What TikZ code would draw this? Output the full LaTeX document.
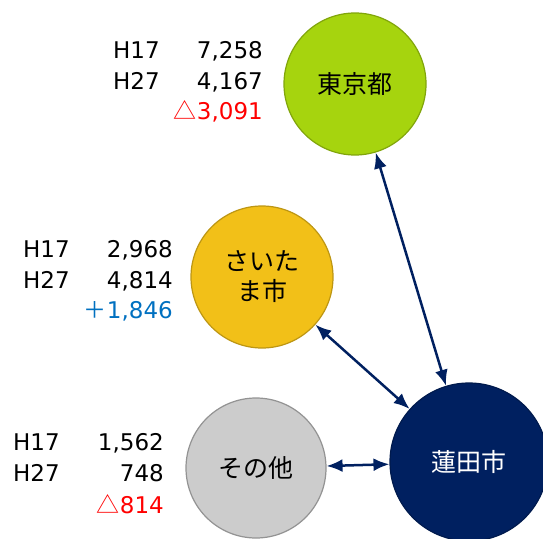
\documentclass[tikz,border=0pt]{standalone}
\usepackage{fontspec}
\setmainfont{DejaVu Sans}
\newfontfamily\jp{Noto Sans CJK JP}
\usetikzlibrary{arrows.meta}
\definecolor{navy}{RGB}{0,32,96}
\definecolor{tokyoc}{RGB}{166,212,14}
\definecolor{saitamac}{RGB}{242,192,24}
\definecolor{otherc}{RGB}{204,204,204}
\definecolor{redt}{RGB}{255,0,0}
\definecolor{bluet}{RGB}{0,112,192}
\begin{document}
\begin{tikzpicture}[x=1pt,y=-1pt,
  city/.style={circle, inner sep=0pt, font=\jp\fontsize{25}{30}\selectfont, align=center, line width=1.2pt},
  num/.style={anchor=base east, inner sep=0pt, font=\fontsize{23}{27}\selectfont},
  yr/.style={anchor=base west, inner sep=0pt, font=\fontsize{23}{27}\selectfont},
  link/.style={{Latex[length=16pt,width=13pt]}-{Latex[length=16pt,width=13pt]}, line width=2.5pt, draw=navy}]
\useasboundingbox (0,0) rectangle (543,538);

% circles
\node[city, minimum size=142pt, fill=tokyoc, draw=tokyoc!78!black] (tokyo) at (355,84) {東京都};
\node[city, minimum size=142pt, fill=saitamac, draw=saitamac!78!black] (saitama) at (262,277) {さいた\\ま市};
\node[city, minimum size=140pt, fill=otherc, draw=otherc!72!black] (other) at (256,468) {その他};
\node[city, minimum size=158pt, fill=navy, draw=navy!80!black, text=white] (hasuda) at (469,462) {蓮田市};

% connectors
\draw[link] (tokyo) -- (hasuda);
\draw[link] (saitama) -- (hasuda);
\draw[link] (other) -- (hasuda);

% Tokyo figures
\node[yr] (t17) at (113,58.5) {H17};
\node[num] (t17n) at (263,58.5) {7,258};
\node[yr] (t27) at (113,89) {H27};
\node[num] (t27n) at (263,89) {4,167};
\node[num, text=redt] (tdiff) at (263,119.5) {{\jp △}3,091};

% Saitama figures
\node[yr] (s17) at (23,257.5) {H17};
\node[num] (s17n) at (173,257.5) {2,968};
\node[yr] (s27) at (23,288.5) {H27};
\node[num] (s27n) at (173,288.5) {4,814};
\node[num, text=bluet] (sdiff) at (173,318.5) {{\jp ＋}1,846};

% Other figures
\node[yr] (o17) at (13,450.5) {H17};
\node[num] (o17n) at (164,450.5) {1,562};
\node[yr] (o27) at (13,481.5) {H27};
\node[num] (o27n) at (164,481.5) {748};
\node[num, text=redt] (odiff) at (164,513.5) {{\jp △}814};
\end{tikzpicture}
\end{document}
